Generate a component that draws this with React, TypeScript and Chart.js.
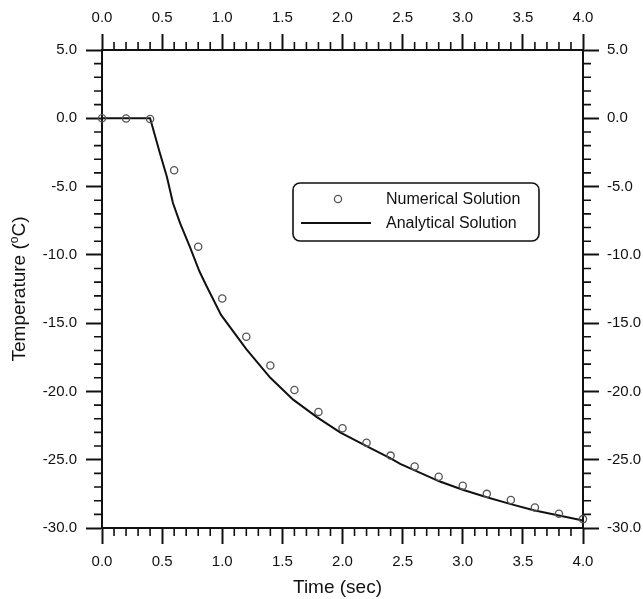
import React, { useEffect, useRef } from "react";
import { Chart, registerables } from "chart.js";

Chart.register(...registerables);

// Numerical solution, sampled every 0.2 s
const numericalTime = [0, 0.2, 0.4, 0.6, 0.8, 1.0, 1.2, 1.4, 1.6, 1.8, 2.0, 2.2, 2.4, 2.6, 2.8, 3.0, 3.2, 3.4, 3.6, 3.8, 4.0];
const numericalTemp = [0, -0.02, -0.05, -3.8, -9.4, -13.2, -16.0, -18.1, -19.9, -21.5, -22.7, -23.75, -24.7, -25.5, -26.25, -26.9, -27.5, -27.95, -28.5, -28.95, -29.35];

// Analytical solution
const analyticalTime = [0, 0.4, 0.48, 0.54, 0.59, 0.65, 0.73, 0.81, 0.87, 0.99, 1.2, 1.4, 1.59, 1.79, 1.98, 2.2, 2.4, 2.48, 2.81, 3.0, 3.2, 3.4, 3.59, 3.78, 4.0];
const analyticalTemp = [0, 0, -2.5, -4.3, -6.2, -7.7, -9.4, -11.2, -12.3, -14.4, -16.9, -19.0, -20.6, -21.9, -23.0, -24.0, -24.9, -25.3, -26.6, -27.2, -27.75, -28.25, -28.7, -29.05, -29.45];

const seriesLabels = ["Numerical Solution", "Analytical Solution"];
const xTitle = "Time (sec)";
const yTitleParts = ["Temperature (", "o", "C)"];

// Axis ranges and tick steps
const X_MIN = 0, X_MAX = 4, X_MAJOR = 0.5, X_MINOR_PER_UNIT = 10;
const Y_MIN = -30, Y_MAX = 5, Y_MAJOR = 5, Y_MINOR = 1;

const FONT = "'Liberation Sans', Arial, Helvetica, sans-serif";
const INK = "#111";

const fmt = (v: number | string) => Number(v).toFixed(1);

// Short outward minor ticks on all four sides
const minorTicksPlugin = {
  id: "minorTicks",
  afterDraw(chart: any) {
    const { ctx, chartArea } = chart;
    const { left, right, top, bottom } = chartArea;
    const xs = chart.scales.x;
    const ys = chart.scales.y;
    const len = 8;
    ctx.save();
    ctx.strokeStyle = INK;
    ctx.lineWidth = 1.6;
    ctx.beginPath();
    for (let k = X_MIN * X_MINOR_PER_UNIT; k <= X_MAX * X_MINOR_PER_UNIT; k++) {
      if (k % 5 === 0) continue;
      const px = xs.getPixelForValue(k / X_MINOR_PER_UNIT);
      ctx.moveTo(px, bottom);
      ctx.lineTo(px, bottom + len);
      ctx.moveTo(px, top);
      ctx.lineTo(px, top - len);
    }
    for (let v = Y_MIN; v <= Y_MAX; v += Y_MINOR) {
      if (v % Y_MAJOR === 0) continue;
      const py = ys.getPixelForValue(v);
      ctx.moveTo(left, py);
      ctx.lineTo(left - len, py);
      ctx.moveTo(right, py);
      ctx.lineTo(right + len, py);
    }
    ctx.stroke();
    ctx.restore();
  },
};

// Axis titles (the y title carries a raised "o" for degrees)
const titlesPlugin = {
  id: "axisTitles",
  afterDraw(chart: any) {
    const { ctx, chartArea } = chart;
    ctx.save();
    ctx.fillStyle = INK;
    ctx.textBaseline = "alphabetic";
    ctx.font = `19px ${FONT}`;
    ctx.textAlign = "center";
    const cx = (chartArea.left + chartArea.right) / 2 - 5;
    ctx.fillText(xTitle, cx, 593);

    const [a, sup, b] = yTitleParts;
    ctx.font = `19px ${FONT}`;
    const wa = ctx.measureText(a).width;
    const wb = ctx.measureText(b).width;
    ctx.font = `12px ${FONT}`;
    const ws = ctx.measureText(sup).width;
    const total = wa + ws + wb;
    const cy = (chartArea.top + chartArea.bottom) / 2;
    ctx.translate(25, cy);
    ctx.rotate(-Math.PI / 2);
    ctx.textAlign = "left";
    let x0 = -total / 2;
    ctx.font = `19px ${FONT}`;
    ctx.fillText(a, x0, 0);
    x0 += wa;
    ctx.font = `12px ${FONT}`;
    ctx.fillText(sup, x0, -7);
    x0 += ws;
    ctx.font = `19px ${FONT}`;
    ctx.fillText(b, x0, 0);
    ctx.restore();
  },
};

// Framed legend inside the plot area
const legendPlugin = {
  id: "boxLegend",
  afterDraw(chart: any) {
    const { ctx, chartArea } = chart;
    const ds = chart.data.datasets;
    const bx = chartArea.left + 191;
    const by = chartArea.top + 133;
    const bw = 246;
    const bh = 58;
    ctx.save();
    ctx.strokeStyle = INK;
    ctx.lineWidth = 1.6;
    ctx.beginPath();
    ctx.roundRect(bx, by, bw, bh, 7);
    ctx.stroke();

    const row1 = by + 16;
    const row2 = by + 40;
    // marker for the numerical series
    ctx.strokeStyle = ds[0].borderColor;
    ctx.lineWidth = ds[0].pointBorderWidth;
    ctx.beginPath();
    ctx.arc(bx + 45, row1, ds[0].pointRadius, 0, Math.PI * 2);
    ctx.stroke();
    // line sample for the analytical series
    ctx.strokeStyle = ds[1].borderColor;
    ctx.lineWidth = ds[1].borderWidth;
    ctx.beginPath();
    ctx.moveTo(bx + 8, row2);
    ctx.lineTo(bx + 78, row2);
    ctx.stroke();

    ctx.fillStyle = INK;
    ctx.font = `16px ${FONT}`;
    ctx.textAlign = "left";
    ctx.textBaseline = "middle";
    ctx.fillText(ds[0].label, bx + 93, row1 + 1);
    ctx.fillText(ds[1].label, bx + 93, row2 + 1);
    ctx.restore();
  },
};

function axisCommon(pos: string, padding: number) {
  return {
    position: pos,
    grid: {
      display: true,
      drawOnChartArea: false,
      drawTicks: true,
      tickLength: 16,
      tickWidth: 2,
      tickColor: INK,
    },
    border: { display: true, color: INK, width: 2 },
    ticks: {
      color: INK,
      font: { family: FONT, size: 15 },
      padding,
      callback: fmt,
      maxRotation: 0,
      autoSkip: false,
    },
  };
}

export default function App() {
  const canvasRef = useRef<HTMLCanvasElement | null>(null);

  useEffect(() => {
    const canvas = canvasRef.current;
    if (!canvas) return;

    const numericalPoints = numericalTime.map((t, i) => ({ x: t, y: numericalTemp[i] }));
    const analyticalPoints = analyticalTime.map((t, i) => ({ x: t, y: analyticalTemp[i] }));

    const xAxis = (pos: string, padding: number, size: number) => ({
      ...axisCommon(pos, padding),
      type: "linear",
      min: X_MIN,
      max: X_MAX,
      ticks: { ...axisCommon(pos, padding).ticks, stepSize: X_MAJOR },
      afterFit: (s: any) => {
        s.height = size;
      },
    });
    const yAxis = (pos: string, padding: number, size: number) => ({
      ...axisCommon(pos, padding),
      type: "linear",
      min: Y_MIN,
      max: Y_MAX,
      ticks: { ...axisCommon(pos, padding).ticks, stepSize: Y_MAJOR },
      afterFit: (s: any) => {
        s.width = size;
      },
    });

    const chart = new Chart(canvas, {
      type: "scatter",
      data: {
        datasets: [
          {
            label: seriesLabels[0],
            data: numericalPoints,
            showLine: false,
            pointStyle: "circle",
            pointRadius: 3.6,
            pointBorderWidth: 1.3,
            borderColor: "#555",
            backgroundColor: "rgba(255,255,255,0)",
            xAxisID: "x",
            yAxisID: "y",
            clip: false,
            order: 0,
          },
          {
            label: seriesLabels[1],
            data: analyticalPoints,
            showLine: true,
            pointRadius: 0,
            borderWidth: 2,
            borderColor: INK,
            backgroundColor: INK,
            tension: 0,
            xAxisID: "x",
            yAxisID: "y",
            clip: false,
            order: 1,
          },
        ] as any,
      },
      options: {
        responsive: false,
        animation: false,
        layout: { padding: 0 },
        plugins: {
          legend: { display: false },
          tooltip: { enabled: false },
          title: { display: false },
        },
        scales: {
          x: xAxis("bottom", 9, 71) as any,
          x2: xAxis("top", 7, 50) as any,
          y: yAxis("left", 9, 102) as any,
          y2: yAxis("right", 8, 60) as any,
        },
      },
      plugins: [minorTicksPlugin, titlesPlugin, legendPlugin],
    });

    return () => chart.destroy();
  }, []);

  return (
    <div style={{ position: "absolute", left: 0, top: 0, width: 643, height: 599, background: "#fff" }}>
      <canvas ref={canvasRef} width={643} height={599} style={{ display: "block" }} />
    </div>
  );
}
